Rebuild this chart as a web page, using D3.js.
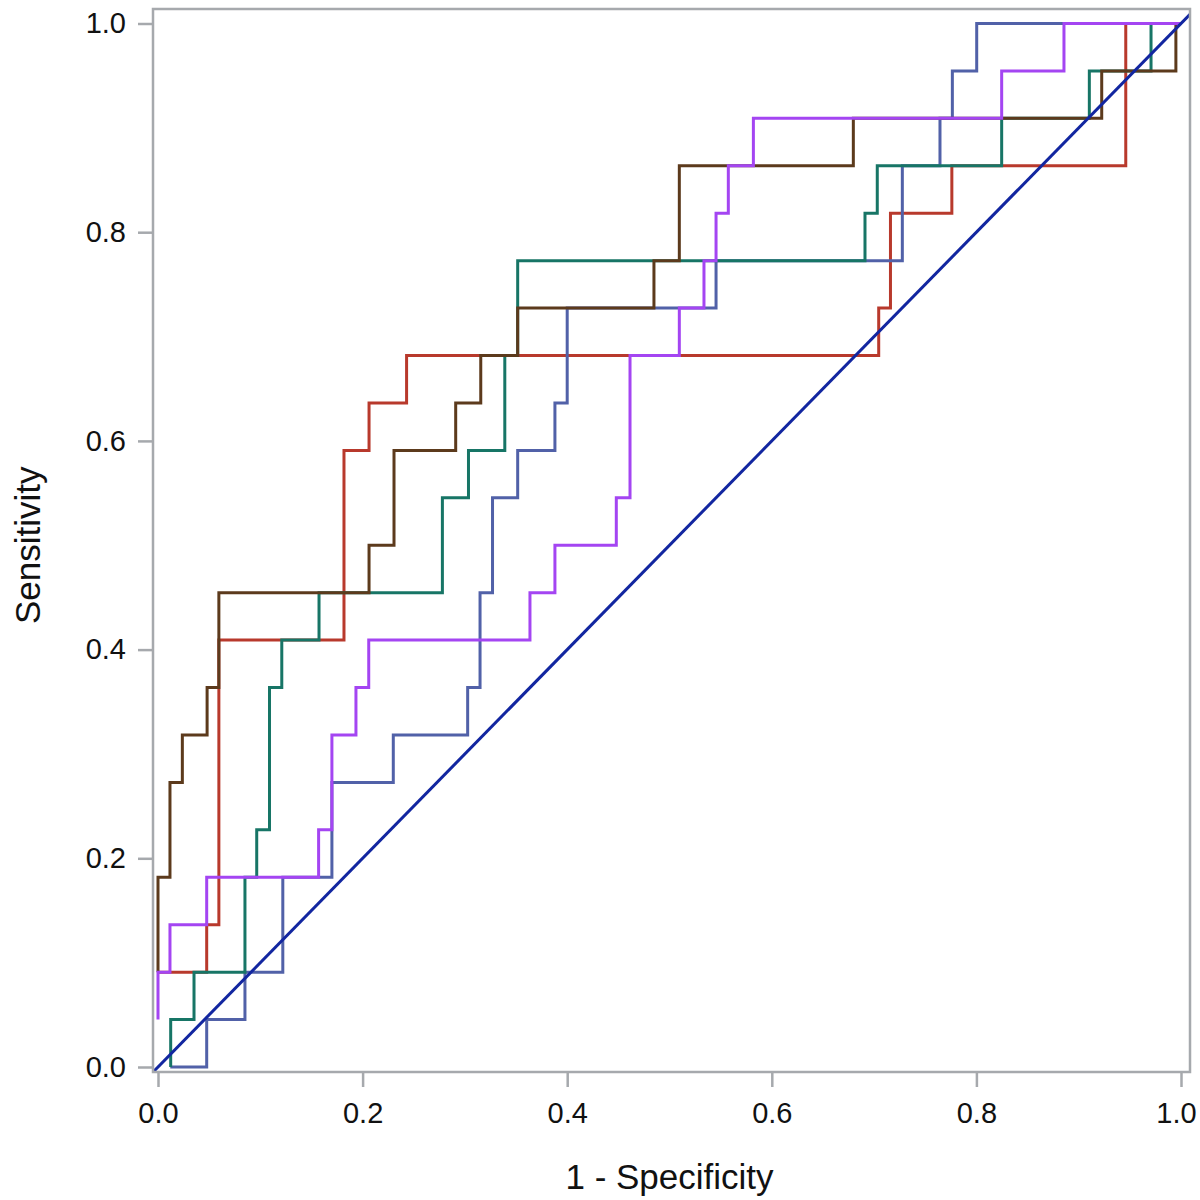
<!DOCTYPE html>
<html>
<head>
<meta charset="utf-8">
<script src="https://cdn.jsdelivr.net/npm/d3@7"></script>
<style>
  html, body { margin: 0; padding: 0; background: #fff; }
  svg { display: block; }
</style>
</head>
<body>
<div id="chart"></div>
<script>
// ROC operating points (1 - specificity, sensitivity); steps drawn "up then right"
const redFpr    = [0, 0.0476, 0.0595, 0.1818, 0.2063, 0.243, 0.7045, 0.716, 0.776, 0.946, 1.0];
const redTpr    = [2/22, 2/22, 3/22, 9/22, 13/22, 14/22, 15/22, 16/22, 18/22, 19/22, 22/22];

const blueFpr   = [0.012, 0.0476, 0.085, 0.122, 0.17, 0.23, 0.3027, 0.3148, 0.327, 0.3516, 0.388, 0.40, 0.5455, 0.7276, 0.7644, 0.7765, 0.8003, 1.0];
const blueTpr   = [0, 0, 1/22, 2/22, 4/22, 6/22, 7/22, 8/22, 10/22, 12/22, 13/22, 14/22, 16/22, 17/22, 19/22, 20/22, 21/22, 22/22];

const tealFpr   = [0.0124, 0.0352, 0.085, 0.0965, 0.109, 0.121, 0.1574, 0.278, 0.3035, 0.339, 0.3516, 0.6911, 0.7031, 0.8247, 0.9104, 0.9707, 1.0];
const tealTpr   = [0, 1/22, 2/22, 4/22, 5/22, 8/22, 9/22, 10/22, 12/22, 13/22, 15/22, 17/22, 18/22, 19/22, 20/22, 21/22, 22/22];

const brownFpr  = [0, 0.0117, 0.0238, 0.048, 0.0595, 0.2063, 0.2307, 0.291, 0.3155, 0.3516, 0.4848, 0.5096, 0.6797, 0.9225, 0.995, 1.0];
const brownTpr  = [2/22, 4/22, 6/22, 7/22, 8/22, 10/22, 11/22, 13/22, 14/22, 15/22, 16/22, 17/22, 19/22, 20/22, 21/22, 22/22];

const purpleFpr = [0, 0.0117, 0.0476, 0.157, 0.17, 0.1935, 0.206, 0.3636, 0.388, 0.448, 0.4614, 0.5096, 0.5337, 0.5455, 0.5575, 0.582, 0.8247, 0.8856, 1.0];
const purpleTpr = [1/22, 2/22, 3/22, 4/22, 5/22, 7/22, 8/22, 9/22, 10/22, 11/22, 12/22, 15/22, 16/22, 17/22, 18/22, 19/22, 20/22, 21/22, 22/22];

const seriesNames  = ["red", "blue", "teal", "brown", "purple"];
const seriesColors = ["#B8392C", "#5161A8", "#177566", "#5C3A1C", "#A445F2"];
const xTicks = [0, 0.2, 0.4, 0.6, 0.8, 1.0];
const yTicks = [0, 0.2, 0.4, 0.6, 0.8, 1.0];
const xTitle = "1 - Specificity";
const yTitle = "Sensitivity";

const W = 1200, H = 1200;
const frame = { left: 153, right: 1190, top: 9, bottom: 1072 };

const x = d3.scaleLinear().domain([0, 1]).range([158, 1181]);
const y = d3.scaleLinear().domain([0, 1]).range([1067, 23.5]);

const svg = d3.select("#chart").append("svg")
  .attr("width", W).attr("height", H)
  .style("font-family", "'Liberation Sans', Arial, Helvetica, sans-serif");

const gray = "#A6A9AD";

// axes
const xAxis = svg.append("g")
  .attr("transform", `translate(0,${frame.bottom})`)
  .call(d3.axisBottom(x).tickValues(xTicks).tickFormat(d3.format(".1f")).tickSize(15).tickPadding(15));
const yAxis = svg.append("g")
  .attr("transform", `translate(${frame.left},0)`)
  .call(d3.axisLeft(y).tickValues(yTicks).tickFormat(d3.format(".1f")).tickSize(15).tickPadding(12));
[xAxis, yAxis].forEach(g => {
  g.select(".domain").remove();
  g.selectAll(".tick line").attr("stroke", gray).attr("stroke-width", 2.5);
  g.selectAll(".tick text").attr("fill", "#111").style("font-size", "29px");
});
// keep the last x label inside the page, as in the reference
xAxis.selectAll(".tick text").filter(d => d === 1).attr("dx", -5);

// plot clip
svg.append("clipPath").attr("id", "plotclip").append("rect")
  .attr("x", frame.left).attr("y", frame.top)
  .attr("width", frame.right - frame.left).attr("height", frame.bottom - frame.top);

const plot = svg.append("g").attr("clip-path", "url(#plotclip)");

const series = [
  { fpr: redFpr, tpr: redTpr },
  { fpr: blueFpr, tpr: blueTpr },
  { fpr: tealFpr, tpr: tealTpr },
  { fpr: brownFpr, tpr: brownTpr },
  { fpr: purpleFpr, tpr: purpleTpr }
];

const line = d3.line()
  .x(d => x(d[0])).y(d => y(d[1]))
  .curve(d3.curveStepBefore);

series.forEach((s, i) => {
  const pts = s.fpr.map((f, j) => [f, s.tpr[j]]);
  plot.append("path")
    .datum(pts)
    .attr("d", line)
    .attr("fill", "none")
    .attr("stroke", seriesColors[i])
    .attr("stroke-width", 3)
    .attr("stroke-linejoin", "miter")
    .attr("class", "roc-" + seriesNames[i]);
});

// reference diagonal (y = x) across the plot area
const dMin = x.invert(frame.left), dMax = x.invert(frame.right);
plot.append("line")
  .attr("x1", x(dMin)).attr("y1", y(dMin))
  .attr("x2", x(dMax)).attr("y2", y(dMax))
  .attr("stroke", "#1226A0").attr("stroke-width", 3);

// frame
svg.append("rect")
  .attr("x", frame.left).attr("y", frame.top)
  .attr("width", frame.right - frame.left).attr("height", frame.bottom - frame.top)
  .attr("fill", "none").attr("stroke", gray).attr("stroke-width", 2.5);

// titles
svg.append("text")
  .attr("x", (x(0) + x(1)) / 2).attr("y", 1189)
  .attr("text-anchor", "middle")
  .attr("fill", "#111")
  .style("font-size", "35px")
  .text(xTitle);

svg.append("text")
  .attr("transform", `translate(40,${(y(0) + y(1)) / 2}) rotate(-90)`)
  .attr("text-anchor", "middle")
  .attr("fill", "#111")
  .style("font-size", "35px")
  .text(yTitle);
</script>
</body>
</html>
